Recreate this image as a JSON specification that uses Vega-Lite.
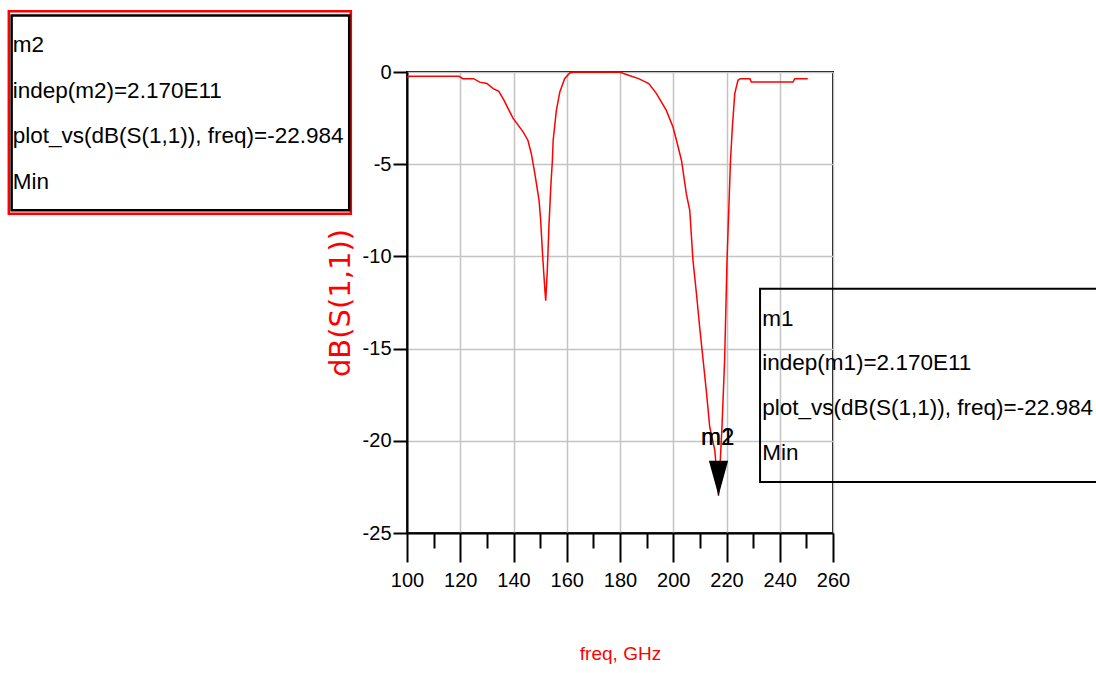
{
  "$schema": "https://vega.github.io/schema/vega-lite/v6.json",
  "width": 426,
  "height": 461,
  "autosize": "none",
  "padding": {"left": 407, "top": 72, "right": 263, "bottom": 140},
  "background": "white",
  "datasets": {
    "s11": [
      {"freq": 100, "db": -0.3}, {"freq": 101, "db": -0.23}, {"freq": 110, "db": -0.23}, {"freq": 119.5, "db": -0.23},
      {"freq": 121, "db": -0.36}, {"freq": 125, "db": -0.36}, {"freq": 127.3, "db": -0.55}, {"freq": 130, "db": -0.62},
      {"freq": 132.4, "db": -0.9}, {"freq": 134.5, "db": -1.05}, {"freq": 136.3, "db": -1.5}, {"freq": 139.8, "db": -2.5},
      {"freq": 143.6, "db": -3.25}, {"freq": 145.4, "db": -3.7}, {"freq": 146.7, "db": -4.43}, {"freq": 148, "db": -5.5},
      {"freq": 149.6, "db": -6.96}, {"freq": 150.2, "db": -8.04}, {"freq": 150.9, "db": -9.85}, {"freq": 151.3, "db": -10.75},
      {"freq": 151.8, "db": -11.84}, {"freq": 152.1, "db": -12.4}, {"freq": 152.7, "db": -10.75}, {"freq": 153.3, "db": -8.4},
      {"freq": 154.0, "db": -6.24}, {"freq": 154.6, "db": -4.8}, {"freq": 154.9, "db": -3.7}, {"freq": 156.1, "db": -2.08},
      {"freq": 157.4, "db": -1.08}, {"freq": 159.2, "db": -0.36}, {"freq": 161.1, "db": -0.05}, {"freq": 162.5, "db": -0.02},
      {"freq": 170, "db": -0.02}, {"freq": 180, "db": -0.02}, {"freq": 183.2, "db": -0.18}, {"freq": 187, "db": -0.36},
      {"freq": 190.8, "db": -0.63}, {"freq": 193.7, "db": -1.17}, {"freq": 197.4, "db": -2.08}, {"freq": 199.9, "db": -2.98},
      {"freq": 201.2, "db": -3.7}, {"freq": 203.1, "db": -4.8}, {"freq": 204.9, "db": -6.6}, {"freq": 206.2, "db": -7.5},
      {"freq": 207.4, "db": -10.2}, {"freq": 208.7, "db": -12.0}, {"freq": 209.9, "db": -13.8}, {"freq": 211.2, "db": -15.6},
      {"freq": 212.5, "db": -17.4}, {"freq": 213.7, "db": -19.25}, {"freq": 215.6, "db": -20.5}, {"freq": 217, "db": -22.984},
      {"freq": 218.3, "db": -19.25}, {"freq": 219.3, "db": -15.6}, {"freq": 220.2, "db": -10.2}, {"freq": 221.5, "db": -4.8},
      {"freq": 222.2, "db": -3.0}, {"freq": 223.1, "db": -1.17}, {"freq": 224.3, "db": -0.45}, {"freq": 225.2, "db": -0.36},
      {"freq": 228.8, "db": -0.36}, {"freq": 229.3, "db": -0.54}, {"freq": 245, "db": -0.54}, {"freq": 245.6, "db": -0.36},
      {"freq": 250.5, "db": -0.36}
    ]
  },
  "layer": [
    {
      "data": {"name": "s11"},
      "mark": {"type": "line", "color": "#ff0000", "strokeWidth": 1.5, "interpolate": "linear"},
      "encoding": {
        "x": {
          "field": "freq", "type": "quantitative",
          "scale": {"domain": [100, 260], "nice": false, "zero": false},
          "axis": {
            "orient": "bottom",
            "values": [100, 120, 140, 160, 180, 200, 220, 240, 260],
            "title": "freq, GHz",
            "tickSize": 29, "tickWidth": 2, "tickColor": "black",
            "domainColor": "black", "domainWidth": 2,
            "labelFont": "Liberation Sans", "labelFontSize": 20, "labelColor": "black", "labelPadding": 8,
            "labelFlush": false, "labelOverlap": false,
            "grid": true, "gridColor": "#c4c4c4", "gridWidth": 1.5,
            "titleFont": "Liberation Sans", "titleFontSize": 19, "titleFontWeight": "normal", "titleColor": "#ff0000",
            "titlePadding": 54
          }
        },
        "y": {
          "field": "db", "type": "quantitative",
          "scale": {"domain": [-25, 0], "nice": false, "zero": false},
          "axis": {
            "orient": "left",
            "values": [-25, -20, -15, -10, -5, 0],
            "labelExpr": "'' + datum.value",
            "title": "dB(S(1,1))",
            "tickSize": 14, "tickWidth": 2, "tickColor": "black",
            "domainColor": "black", "domainWidth": 2,
            "labelFont": "Liberation Sans", "labelFontSize": 20, "labelColor": "black", "labelPadding": 2,
            "labelFlush": false, "labelOverlap": false,
            "grid": true, "gridColor": "#c4c4c4", "gridWidth": 1.5,
            "titleFont": "DejaVu Sans", "titleFontSize": 29, "titleFontWeight": "normal", "titleColor": "#ff0000",
            "titlePadding": 7
          }
        }
      }
    },
    {
      "data": {"values": [{}]},
      "mark": {"type": "point", "shape": "M-0.55,-2L0.55,-2L0,0Z", "filled": true, "color": "black", "opacity": 1, "size": 1225, "strokeWidth": 0},
      "encoding": {
        "x": {
          "datum": 217, "type": "quantitative",
          "scale": {"domain": [100, 260], "nice": false, "zero": false},
          "axis": {
            "orient": "bottom",
            "values": [110, 130, 150, 170, 190, 210, 230, 250],
            "title": null, "labels": false, "grid": false, "domain": false,
            "tickSize": 15, "tickWidth": 2, "tickColor": "black"
          }
        },
        "y": {"datum": -22.984, "type": "quantitative", "scale": {"domain": [-25, 0], "nice": false, "zero": false}, "axis": null}
      }
    },
    {
      "data": {"values": [{}]},
      "mark": {"type": "text", "text": "m1", "font": "Liberation Sans", "fontSize": 24, "color": "black", "align": "center", "baseline": "alphabetic"},
      "encoding": {
        "x": {"datum": 216.7, "type": "quantitative", "scale": {"domain": [100, 260], "nice": false, "zero": false}, "axis": null},
        "y": {"datum": -20.22, "type": "quantitative", "scale": {"domain": [-25, 0], "nice": false, "zero": false}, "axis": null}
      }
    },
    {
      "data": {"values": [{}]},
      "mark": {"type": "text", "text": "m2", "font": "Liberation Sans", "fontSize": 24, "color": "black", "align": "center", "baseline": "alphabetic"},
      "encoding": {
        "x": {"datum": 216.7, "type": "quantitative", "scale": {"domain": [100, 260], "nice": false, "zero": false}, "axis": null},
        "y": {"datum": -20.22, "type": "quantitative", "scale": {"domain": [-25, 0], "nice": false, "zero": false}, "axis": null}
      }
    },
    {
      "data": {"values": [{}]},
      "mark": {"type": "rect", "fill": "white", "stroke": "#ff0000", "strokeWidth": 2.5},
      "encoding": {
        "x": {"datum": -49.56, "type": "quantitative", "scale": {"domain": [100, 260], "nice": false, "zero": false}, "axis": null},
        "x2": {"datum": 78.9},
        "y": {"datum": 3.29, "type": "quantitative", "scale": {"domain": [-25, 0], "nice": false, "zero": false}, "axis": null},
        "y2": {"datum": -7.69}
      }
    },
    {
      "data": {"values": [{}]},
      "mark": {"type": "rect", "fill": "white", "stroke": "black", "strokeWidth": 2.5},
      "encoding": {
        "x": {"datum": -48.5, "type": "quantitative", "scale": {"domain": [100, 260], "nice": false, "zero": false}, "axis": null},
        "x2": {"datum": 78.3},
        "y": {"datum": 3.07, "type": "quantitative", "scale": {"domain": [-25, 0], "nice": false, "zero": false}, "axis": null},
        "y2": {"datum": -7.5}
      }
    },
    {
      "data": {"values": [{}]},
      "mark": {"type": "rect", "fill": null, "fillOpacity": 0, "stroke": "black", "strokeWidth": 2},
      "encoding": {
        "x": {"datum": 232.6, "type": "quantitative", "scale": {"domain": [100, 260], "nice": false, "zero": false}, "axis": null},
        "x2": {"datum": 360},
        "y": {"datum": -11.75, "type": "quantitative", "scale": {"domain": [-25, 0], "nice": false, "zero": false}, "axis": null},
        "y2": {"datum": -22.23}
      }
    },
    {
      "data": {"values": [{}]},
      "mark": {"type": "text", "text": ["m2", "indep(m2)=2.170E11", "plot_vs(dB(S(1,1)), freq)=-22.984", "Min"], "font": "Liberation Sans", "fontSize": 22.5, "lineHeight": 45.5, "color": "black", "align": "left", "baseline": "alphabetic"},
      "encoding": {
        "x": {"datum": -48.1, "type": "quantitative", "scale": {"domain": [100, 260], "nice": false, "zero": false}, "axis": null},
        "y": {"datum": 1.06, "type": "quantitative", "scale": {"domain": [-25, 0], "nice": false, "zero": false}, "axis": null}
      }
    },
    {
      "data": {"values": [{}]},
      "mark": {"type": "text", "text": ["m1", "indep(m1)=2.170E11", "plot_vs(dB(S(1,1)), freq)=-22.984", "Min"], "font": "Liberation Sans", "fontSize": 22.5, "lineHeight": 44.7, "color": "black", "align": "left", "baseline": "alphabetic"},
      "encoding": {
        "x": {"datum": 233.4, "type": "quantitative", "scale": {"domain": [100, 260], "nice": false, "zero": false}, "axis": null},
        "y": {"datum": -13.76, "type": "quantitative", "scale": {"domain": [-25, 0], "nice": false, "zero": false}, "axis": null}
      }
    }
  ],
  "resolve": {"axis": {"x": "independent", "y": "independent"}},
  "config": {
    "view": {"stroke": "black", "strokeWidth": 2}
  }
}
